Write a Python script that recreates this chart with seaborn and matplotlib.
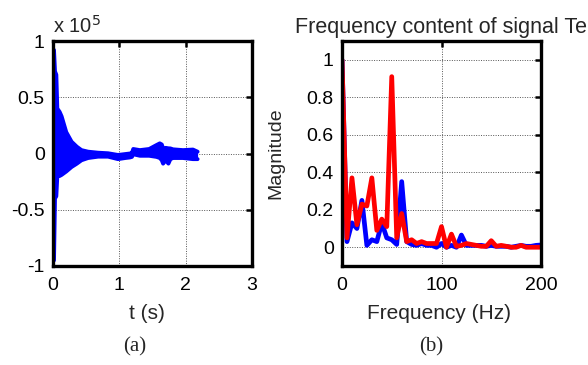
import numpy as np
import pandas as pd
import matplotlib
matplotlib.use("Agg")
import matplotlib.pyplot as plt
import seaborn as sns
from matplotlib.ticker import FuncFormatter, FixedLocator

# ---------------- data ----------------
# (a) time signal envelope, values in units of 1e5
t_env = [0.0, 0.015, 0.03, 0.05, 0.065, 0.10, 0.13, 0.20, 0.28, 0.36, 0.43,
         0.53, 0.68, 0.83, 0.98, 1.09, 1.16, 1.19, 1.21, 1.31, 1.45, 1.56,
         1.61, 1.64, 1.66, 1.70, 1.74, 1.77, 1.81, 1.96, 2.11, 2.18]
upper_env = [0.92, 0.92, 0.73, 0.70, 0.40, 0.37, 0.33, 0.19, 0.105, 0.06, 0.03,
             0.016, 0.007, 0.002, -0.013, -0.005, 0.0, 0.005, 0.04, 0.03, 0.04, 0.075,
             0.09, 0.08, 0.046, 0.05, 0.046, 0.045, 0.037, 0.03, 0.035, 0.016]
lower_env = [-0.95, -0.95, -0.40, -0.38, -0.20, -0.20, -0.19, -0.16, -0.12, -0.09, -0.06,
             -0.04, -0.028, -0.028, -0.05, -0.04, -0.035, -0.03, -0.007, -0.02, -0.02, -0.03,
             -0.04, -0.06, -0.09, -0.06, -0.09, -0.05, -0.04, -0.04, -0.05, -0.05]

# (b) spectrum
freq = [0, 5, 10, 15, 20, 25, 30, 35, 40, 45, 50, 55, 60, 65, 70, 75, 80, 85, 90, 95,
        100, 105, 110, 115, 120, 125, 130, 135, 140, 145, 150, 155, 160, 165, 170, 175,
        180, 185, 190, 195, 200]
mag_blue = [1.0, 0.03, 0.13, 0.10, 0.25, 0.01, 0.04, 0.03, 0.13, 0.05, 0.04, 0.015,
            0.35, 0.03, 0.015, 0.01, 0.02, 0.01, 0.01, 0.0, 0.02, 0.0, 0.01, 0.0,
            0.065, 0.01, 0.01, 0.01, 0.01, 0.005, 0.01, 0.005, 0.005, 0.005, 0.0, 0.005,
            0.01, 0.005, 0.005, 0.01, 0.012]
mag_red = [1.0, 0.05, 0.37, 0.12, 0.23, 0.22, 0.37, 0.09, 0.15, 0.11, 0.91, 0.05,
           0.18, 0.03, 0.04, 0.02, 0.03, 0.02, 0.02, 0.02, 0.11, 0.0, 0.07, 0.005,
           0.01, 0.02, 0.015, 0.01, 0.005, 0.005, 0.035, 0.005, 0.01, 0.005, 0.0, 0.0,
           0.01, 0.0, 0.0, 0.0, 0.0]

left_xticks = [0, 1, 2, 3]
left_yticks = [-1, -0.5, 0, 0.5, 1]
right_xticks = [0, 100, 200]
right_yticks = [0, 0.2, 0.4, 0.6, 0.8, 1]

# ---------------- style ----------------
sns.set_theme(style="white")
plt.rcParams['font.family'] = ['Liberation Sans', 'DejaVu Sans']

W, H = 588, 365
fig = plt.figure(figsize=(W / 100, H / 100), dpi=100)

def px_axes(x0, x1, y0, y1):
    return fig.add_axes([x0 / W, 1 - y1 / H, (x1 - x0) / W, (y1 - y0) / H])

axL = px_axes(53, 252, 41, 266)
axR = px_axes(342, 541, 41, 266)

fmt = FuncFormatter(lambda v, p: ('%g' % v))

def style(ax):
    for s in ax.spines.values():
        s.set_linewidth(2.4)
        s.set_color('black')
    ax.grid(True, linestyle=(0, (1, 1.5)), color='#555555', linewidth=0.7)
    ax.tick_params(direction='in', top=True, right=True, length=4, width=1.8,
                   labelsize=14, colors='black')
    ax.tick_params(axis='x', pad=8)
    ax.tick_params(axis='y', pad=6)
    ax.xaxis.set_major_formatter(fmt)
    ax.yaxis.set_major_formatter(fmt)
    ax.set_facecolor('white')

# ---- left ----
dfL = pd.DataFrame({'t': t_env, 'up': upper_env, 'lo': lower_env})
axL.fill_between(dfL['t'], dfL['lo'], dfL['up'], color='#0000ff', linewidth=0)
sns.lineplot(data=dfL, x='t', y='up', ax=axL, color='#0000ff', linewidth=2.8)
sns.lineplot(data=dfL, x='t', y='lo', ax=axL, color='#0000ff', linewidth=2.8)
axL.set_xlim(0, 3)
axL.set_ylim(-1, 1)
axL.xaxis.set_major_locator(FixedLocator(left_xticks))
axL.yaxis.set_major_locator(FixedLocator(left_yticks))
style(axL)
axL.set_xlabel('t (s)', fontsize=15)
axL.set_ylabel('')
axL.xaxis.set_label_coords((147 - 53) / 199, -(304 - 266) / 225, transform=axL.transAxes)
fig.text(53 / W, 1 - 33 / H, 'x 10$^5$', fontsize=14.5, ha='left', va='baseline')

# ---- right ----
dfR = pd.DataFrame({'f': freq, 'blue': mag_blue, 'red': mag_red})
sns.lineplot(data=dfR, x='f', y='blue', ax=axR, color='#0000ff', linewidth=3.4)
sns.lineplot(data=dfR, x='f', y='red', ax=axR, color='#ff0000', linewidth=3.4)
axR.set_xlim(0, 200)
axR.set_ylim(-0.1, 1.1)
axR.xaxis.set_major_locator(FixedLocator(right_xticks))
axR.yaxis.set_major_locator(FixedLocator(right_yticks))
style(axR)
axR.set_xlabel('Frequency (Hz)', fontsize=15)
axR.set_ylabel('Magnitude', fontsize=14)
axR.xaxis.set_label_coords((439 - 342) / 199, -(304 - 266) / 225, transform=axR.transAxes)
axR.yaxis.set_label_coords(-(342 - 284) / 199, 0.5, transform=axR.transAxes)
axR.set_title('Frequency content of signal Te', fontsize=15.5, loc='center')
axR.title.set_position(((295 - 342) / 199, 1 + (266 - 28 - 225) / 225))
axR.title.set_horizontalalignment('left')
axR.title.set_verticalalignment('baseline')

# captions
fig.text(135 / W, 1 - 347 / H, '(a)', fontsize=15, ha='center', va='center',
         family=['Liberation Serif', 'DejaVu Serif'])
fig.text(431 / W, 1 - 347 / H, '(b)', fontsize=15, ha='center', va='center',
         family=['Liberation Serif', 'DejaVu Serif'])

fig.savefig('out.png', dpi=100, facecolor='white')
